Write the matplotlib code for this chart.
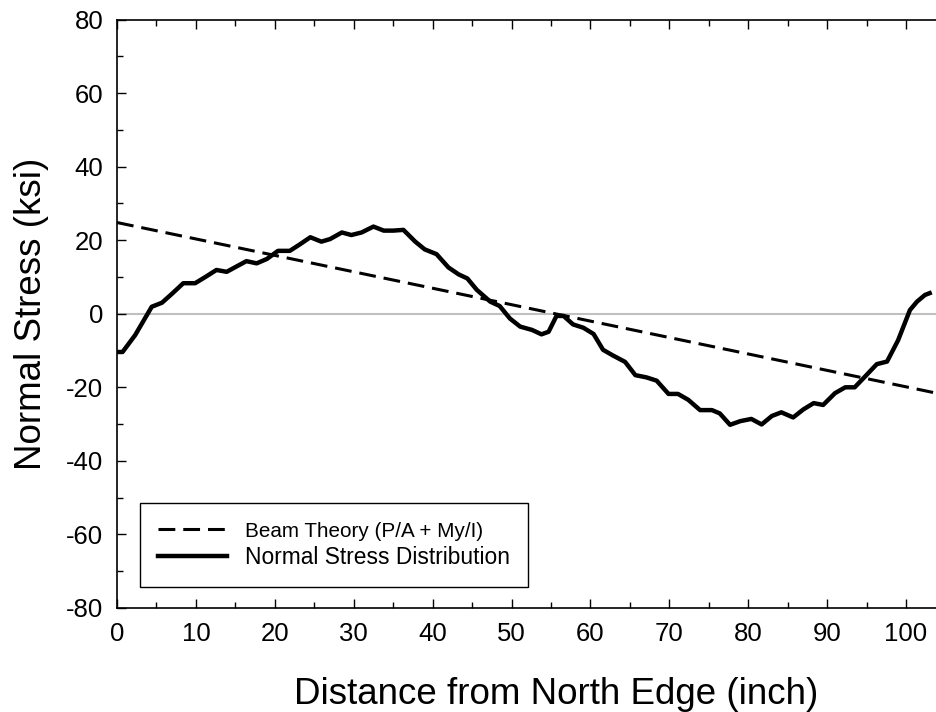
import numpy as np
import matplotlib
matplotlib.use("Agg")
import matplotlib.pyplot as plt
from matplotlib.lines import Line2D

plt.rcParams['font.family'] = ['Liberation Sans', 'DejaVu Sans']
plt.rcParams['axes.unicode_minus'] = False

distance = [0, 0.7, 2.3, 4.4, 5.7, 7.0, 8.4, 9.9, 11.2, 12.6, 13.9, 15.1, 16.4, 17.7,
            19.0, 20.4, 21.9, 23.2, 24.5, 25.9, 27.0, 28.5, 29.7, 31.0, 32.5, 33.8,
            35.0, 36.3, 37.8, 39.0, 40.5, 42.0, 43.3, 44.4, 45.6, 47.3, 48.5, 49.8,
            51.1, 52.6, 53.8, 54.7, 55.7, 56.6, 57.8, 59.1, 60.4, 61.6, 62.9, 64.4,
            65.7, 67.1, 68.4, 69.9, 71.1, 72.4, 73.9, 75.4, 76.4, 77.7, 79.0, 80.4,
            81.7, 83.0, 84.2, 85.7, 87.0, 88.3, 89.5, 91.0, 92.3, 93.5, 94.8, 96.3,
            97.6, 99.0, 100.5, 101.4, 102.4, 103.0]
stress = [-10.4, -10.4, -5.8, 1.9, 3.0, 5.5, 8.3, 8.3, 10.0, 11.9, 11.4, 12.8, 14.3, 13.7,
          14.9, 17.1, 17.1, 18.9, 20.8, 19.6, 20.3, 22.1, 21.4, 22.1, 23.7, 22.6,
          22.6, 22.8, 19.6, 17.5, 16.2, 12.6, 10.7, 9.6, 6.5, 3.3, 2.1, -1.3,
          -3.5, -4.4, -5.6, -4.9, -0.6, -0.6, -2.9, -3.8, -5.5, -9.8, -11.4, -13.1,
          -16.7, -17.3, -18.2, -21.8, -21.8, -23.4, -26.2, -26.2, -27.1, -30.2, -29.2, -28.6,
          -30.1, -27.8, -26.8, -28.2, -26.0, -24.3, -24.8, -21.6, -20.0, -20.0, -17.1, -13.7,
          -13.0, -7.2, 1.0, 3.3, 5.1, 5.6]

# beam theory (P/A + My/I), straight line
beam_x = [0, 105]
beam_y = [24.8, -22.1]

fig = plt.figure(figsize=(9.37, 7.12), dpi=100)
ax = fig.add_axes([0.1249, 0.1461, 0.8841, 0.8265])

ax.axhline(0, color='#c0c0c0', lw=1.5, zorder=1)
ax.plot(beam_x, beam_y, color='black', lw=2.2, linestyle=(0, (5.5, 2.6)), zorder=2)
ax.plot(distance, stress, color='black', lw=3.2, solid_joinstyle='round', zorder=3)

ax.set_xlim(0, 105)
ax.set_ylim(-80, 80)
ax.set_xticks(np.arange(0, 101, 10))
ax.set_xticks(np.arange(5, 106, 10), minor=True)
ax.set_yticks(np.arange(-80, 81, 20))
ax.set_yticks(np.arange(-70, 80, 20), minor=True)
ax.tick_params(which='both', direction='in', top=True, right=False,
               labelsize=18.5, width=1.0)
ax.tick_params(which='major', length=6.5, pad=10)
ax.tick_params(which='minor', length=4)
ax.spines['right'].set_visible(False)
for s in ['left', 'bottom', 'top']:
    ax.spines[s].set_linewidth(1.2)

ax.set_xlabel('Distance from North Edge (inch)', fontsize=26.5)
ax.xaxis.set_label_coords(0.53, -0.118)
ax.set_ylabel('Normal Stress (ksi)', fontsize=26.5, labelpad=12)

handles = [Line2D([], [], color='black', lw=2.2, linestyle=(0, (5.5, 2.6))),
           Line2D([], [], color='black', lw=3.2)]
leg = ax.legend(handles, ['Beam Theory (P/A + My/I)', 'Normal Stress Distribution'],
                loc='lower left', bbox_to_anchor=(0.028, 0.036), fancybox=False,
                edgecolor='black', framealpha=1, fontsize=16.4, handlelength=3.0,
                borderpad=0.8, labelspacing=0.2, handletextpad=0.8, borderaxespad=0)
leg.get_frame().set_linewidth(1.0)
leg.get_texts()[0].set_fontsize(14.9)

fig.savefig('out.png', dpi=100)
